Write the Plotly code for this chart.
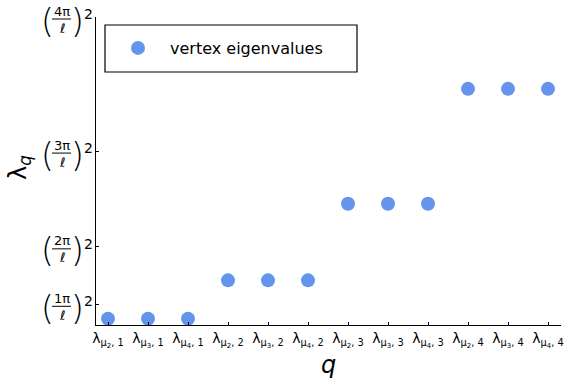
import plotly.graph_objects as go

# ---- data (eigenvalues in units of (π/ℓ)²) ----
categories = [
    "λ<sub>μ<sub>2</sub>, 1</sub>", "λ<sub>μ<sub>3</sub>, 1</sub>", "λ<sub>μ<sub>4</sub>, 1</sub>",
    "λ<sub>μ<sub>2</sub>, 2</sub>", "λ<sub>μ<sub>3</sub>, 2</sub>", "λ<sub>μ<sub>4</sub>, 2</sub>",
    "λ<sub>μ<sub>2</sub>, 3</sub>", "λ<sub>μ<sub>3</sub>, 3</sub>", "λ<sub>μ<sub>4</sub>, 3</sub>",
    "λ<sub>μ<sub>2</sub>, 4</sub>", "λ<sub>μ<sub>3</sub>, 4</sub>", "λ<sub>μ<sub>4</sub>, 4</sub>",
]
eigenvalues = [0.25, 0.25, 0.25, 2.25, 2.25, 2.25,
               6.25, 6.25, 6.25, 12.25, 12.25, 12.25]
y_tick_values = [1, 4, 9, 16]
y_tick_numerators = ["1π", "2π", "3π", "4π"]
y_tick_denominator = "ℓ"
y_tick_exponent = "2"
series_name = "vertex eigenvalues"

FONT = "DejaVu Sans"
L, R, T, B = 96, 3, 17, 56

fig = go.Figure()
fig.add_trace(go.Scatter(
    x=categories, y=eigenvalues, mode="markers", name=series_name,
    marker=dict(color="#6495ED", size=14, line=dict(width=0)),
    cliponaxis=False,
))

annotations = []
shapes = []
for val, num in zip(y_tick_values, y_tick_numerators):
    common = dict(xref="paper", yref="y", x=0, y=val, showarrow=False,
                  xanchor="center", yanchor="middle",
                  font=dict(family=FONT, color="black"))
    annotations.append({**common, "text": "(", "xshift": -49, "yshift": -4,
                        "font": dict(family=FONT, size=33, color="black", weight=200)})
    annotations.append({**common, "text": num, "xshift": -34, "yshift": 6,
                        "font": dict(family=FONT, size=13, color="black")})
    annotations.append({**common, "text": "<i>" + y_tick_denominator + "</i>",
                        "xshift": -34, "yshift": -11,
                        "font": dict(family=FONT, size=13, color="black")})
    annotations.append({**common, "text": ")", "xshift": -19, "yshift": -4,
                        "font": dict(family=FONT, size=33, color="black", weight=200)})
    annotations.append({**common, "text": y_tick_exponent, "xshift": -8, "yshift": 3,
                        "font": dict(family=FONT, size=14, color="black")})
    shapes.append(dict(type="line", xref="paper", yref="y",
                       xsizemode="pixel", ysizemode="pixel",
                       xanchor=0, yanchor=val,
                       x0=-44, x1=-25, y0=-2, y1=-2,
                       line=dict(color="black", width=1)))

# axis titles
annotations.append(dict(xref="paper", yref="paper", x=0.5, y=0, yanchor="middle",
                        xanchor="center", yshift=-40, showarrow=False,
                        text="<i>q</i>", font=dict(family=FONT, size=24, color="black")))
annotations.append(dict(xref="paper", yref="paper", x=0, y=0.51, xanchor="center",
                        yanchor="middle", xshift=-76, showarrow=False, textangle=-90,
                        text="λ<sub><i>q</i></sub>",
                        font=dict(family=FONT, size=24, color="black")))

# legend frame
shapes.append(dict(type="rect", xref="paper", yref="paper",
                   x0=(105 - L) / 465, x1=(357 - L) / 465,
                   y0=(325 - 72) / 308, y1=(325 - 25) / 308,
                   line=dict(color="black", width=1.2), fillcolor="rgba(0,0,0,0)"))

fig.update_layout(
    width=564, height=381,
    margin=dict(l=L, r=R, t=T, b=B, autoexpand=False),
    paper_bgcolor="white", plot_bgcolor="white",
    font=dict(family=FONT, color="black"),
    showlegend=True,
    legend=dict(x=(106 - L) / 465, y=(325 - 48) / 308, xanchor="left", yanchor="middle",
                bgcolor="rgba(0,0,0,0)", borderwidth=0, itemwidth=54,
                font=dict(family=FONT, size=16, color="black")),
    annotations=annotations,
    shapes=shapes,
    xaxis=dict(type="category", range=[-0.3, 11.325], showgrid=False, zeroline=False,
               showline=True, linecolor="black", linewidth=1.2,
               ticks="inside", ticklen=3, tickcolor="black",
               tickfont=dict(family=FONT, size=14, color="black"),
               mirror=False),
    yaxis=dict(range=[-0.08, 16], showgrid=False, zeroline=False,
               showline=True, linecolor="black", linewidth=1.2,
               tickvals=y_tick_values, ticktext=["" for _ in y_tick_values],
               ticks="inside", ticklen=3, tickcolor="black", mirror=False),
)

fig.write_html("out.html", config={"displayModeBar": False},
               post_script="document.body.style.margin='0';")
